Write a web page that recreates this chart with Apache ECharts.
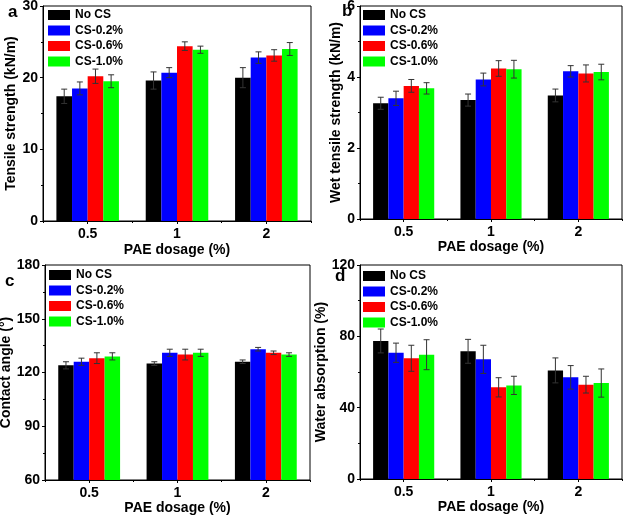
<!DOCTYPE html>
<html>
<head>
<meta charset="utf-8">
<script src="https://cdn.jsdelivr.net/npm/echarts@6/dist/echarts.min.js"></script>
<style>
html,body{margin:0;padding:0;background:#fff;}
#main{width:627px;height:517px;}
</style>
</head>
<body>
<div id="main"></div>
<script>
// ---- Data ----
const categories = ['0.5', '1', '2'];
const seriesNames = ['No CS', 'CS-0.2%', 'CS-0.6%', 'CS-1.0%'];
const seriesColors = ['#000000', '#0000ff', '#ff0000', '#00ff00'];

// (a) Tensile strength (kN/m): rows = series, cols = categories
const tensileMean = [[17.4, 19.6, 20.0], [18.5, 20.7, 22.8], [20.2, 24.4, 23.1], [19.5, 23.9, 24.0]];
const tensileErr  = [[1.0, 1.2, 1.4], [0.9, 0.7, 0.8], [1.0, 0.6, 0.8], [0.9, 0.5, 0.9]];

// (b) Wet tensile strength (kN/m)
const wetMean = [[3.26, 3.35, 3.48], [3.40, 3.93, 4.16], [3.75, 4.24, 4.10], [3.68, 4.22, 4.14]];
const wetErr  = [[0.17, 0.17, 0.18], [0.20, 0.18, 0.16], [0.18, 0.22, 0.24], [0.16, 0.25, 0.22]];

// (c) Contact angle (°)
const angleMean = [[124, 125, 126], [126, 131, 133], [128, 130, 131], [129, 131, 130]];
const angleErr  = [[2, 1, 1], [2, 2, 1], [3, 3, 1], [2, 2, 1]];

// (d) Water absorption (%)
const waterMean = [[77.4, 71.6, 60.9], [70.8, 67.1, 57.0], [67.7, 51.4, 52.9], [69.7, 52.5, 53.8]];
const waterErr  = [[6.7, 6.7, 7.0], [5.4, 7.9, 6.6], [7.3, 5.4, 4.7], [8.4, 5.1, 7.9]];

// Axis settings
const yNames = ['Tensile strength (kN/m)', 'Wet tensile strength (kN/m)', 'Contact angle (°)', 'Water absorption (%)'];
const yMin = [0, 0, 60, 0];
const yMax = [30, 6, 180, 120];
const yInterval = [10, 2, 30, 40];
const panelLetters = ['a', 'b', 'c', 'd'];
const xName = 'PAE dosage (%)';

// ---- Layout (presentation only) ----
const grids = [
  {left: 43, top: 6, width: 268, height: 215},
  {left: 360, top: 6, width: 262, height: 213},
  {left: 45, top: 265, width: 265, height: 215},
  {left: 360, top: 265, width: 262, height: 214}
];
const yNameGap = [23, 17, 30, 27];
const xNameGap = [22, 21, 21, 21];
const legendPos = [{left: 48, top: 9}, {left: 363, top: 9}, {left: 49, top: 269}, {left: 363, top: 270}];
const letterPos = [[8, 20], [342, 19], [5, 289], [335, 284]];

const means = [tensileMean, wetMean, angleMean, waterMean];
const errs = [tensileErr, wetErr, angleErr, waterErr];

const FONT = 'Liberation Sans, Arial, sans-serif';

const option = {
  animation: false,
  backgroundColor: '#ffffff',
  grid: grids.map(g => Object.assign({show: true, borderColor: '#000', borderWidth: 1, backgroundColor: 'transparent', outerBoundsMode: 'none', containLabel: false}, g)),
  legend: legendPos.map(p => ({
    left: p.left, top: p.top, orient: 'vertical', padding: 0,
    itemWidth: 22, itemHeight: 10, itemGap: 3.5, icon: 'rect',
    data: seriesNames,
    textStyle: {fontFamily: FONT, fontWeight: 'bold', fontSize: 12, color: '#000', lineHeight: 12}
  })),
  xAxis: [],
  yAxis: [],
  series: [],
  graphic: panelLetters.map((t, i) => ({
    type: 'text', left: letterPos[i][0], top: letterPos[i][1] - 16,
    style: {text: t, font: 'bold 17px ' + FONT, fill: '#000'}
  }))
};

for (let i = 0; i < 4; i++) {
  option.xAxis.push({
    type: 'category', gridIndex: i, data: categories, position: 'bottom',
    name: xName, nameLocation: 'middle', nameGap: xNameGap[i],
    nameTextStyle: {fontFamily: FONT, fontWeight: 'bold', fontSize: 14, color: '#000'},
    axisLine: {lineStyle: {color: '#000', width: 1}},
    axisTick: {show: true, alignWithLabel: true, length: 3, lineStyle: {color: '#000'}},
    axisLabel: {fontFamily: FONT, fontWeight: 'bold', fontSize: 14, color: '#000', margin: 6},
    splitLine: {show: false}
  });
  option.xAxis.push({
    type: 'category', gridIndex: i, data: categories, position: 'bottom',
    axisLine: {show: false},
    axisTick: {show: true, length: 2, lineStyle: {color: '#000'}},
    axisLabel: {show: false},
    splitLine: {show: false}
  });
  option.yAxis.push({
    type: 'value', gridIndex: i, min: yMin[i], max: yMax[i], interval: yInterval[i],
    name: yNames[i], nameLocation: 'middle', nameGap: yNameGap[i],
    nameTextStyle: {fontFamily: FONT, fontWeight: 'bold', fontSize: 14, color: '#000'},
    axisLine: {show: true, lineStyle: {color: '#000', width: 1}},
    axisTick: {show: true, length: 3, lineStyle: {color: '#000'}},
    minorTick: {show: true, splitNumber: 2, length: 2, lineStyle: {color: '#000'}},
    axisLabel: {fontFamily: FONT, fontWeight: 'bold', fontSize: 14, color: '#000', margin: 5},
    splitLine: {show: false}
  });
  for (let k = 0; k < 4; k++) {
    option.series.push({
      type: 'bar', name: seriesNames[k], xAxisIndex: 2 * i, yAxisIndex: i,
      barGap: '0%', barCategoryGap: '30%',
      itemStyle: {color: seriesColors[k]},
      data: means[i][k]
    });
  }
  const errData = [];
  for (let k = 0; k < 4; k++) {
    for (let c = 0; c < categories.length; c++) {
      errData.push([c, means[i][k][c], errs[i][k][c], k]);
    }
  }
  option.series.push({
    type: 'custom', xAxisIndex: 2 * i, yAxisIndex: i, z: 5,
    encode: {x: 0, y: 1},
    data: errData,
    renderItem: function (params, api) {
      const cat = api.value(0), v = api.value(1), e = api.value(2), k = api.value(3);
      const band = api.size([1, 0])[0];
      const bw = band * 0.7 / 4;
      const c = api.coord([cat, v]);
      const x = c[0] + (k - 1.5) * bw;
      const yt = api.coord([cat, v + e])[1];
      const yb = api.coord([cat, v - e])[1];
      const hw = 3;
      const st = {stroke: '#333', lineWidth: 1};
      return {
        type: 'group', children: [
          {type: 'line', shape: {x1: x, y1: yt, x2: x, y2: yb}, style: st},
          {type: 'line', shape: {x1: x - hw, y1: yt, x2: x + hw, y2: yt}, style: st},
          {type: 'line', shape: {x1: x - hw, y1: yb, x2: x + hw, y2: yb}, style: st}
        ]
      };
    }
  });
}

const chart = echarts.init(document.getElementById('main'), null, {renderer: 'canvas', width: 627, height: 517});
chart.setOption(option);
</script>
</body>
</html>
